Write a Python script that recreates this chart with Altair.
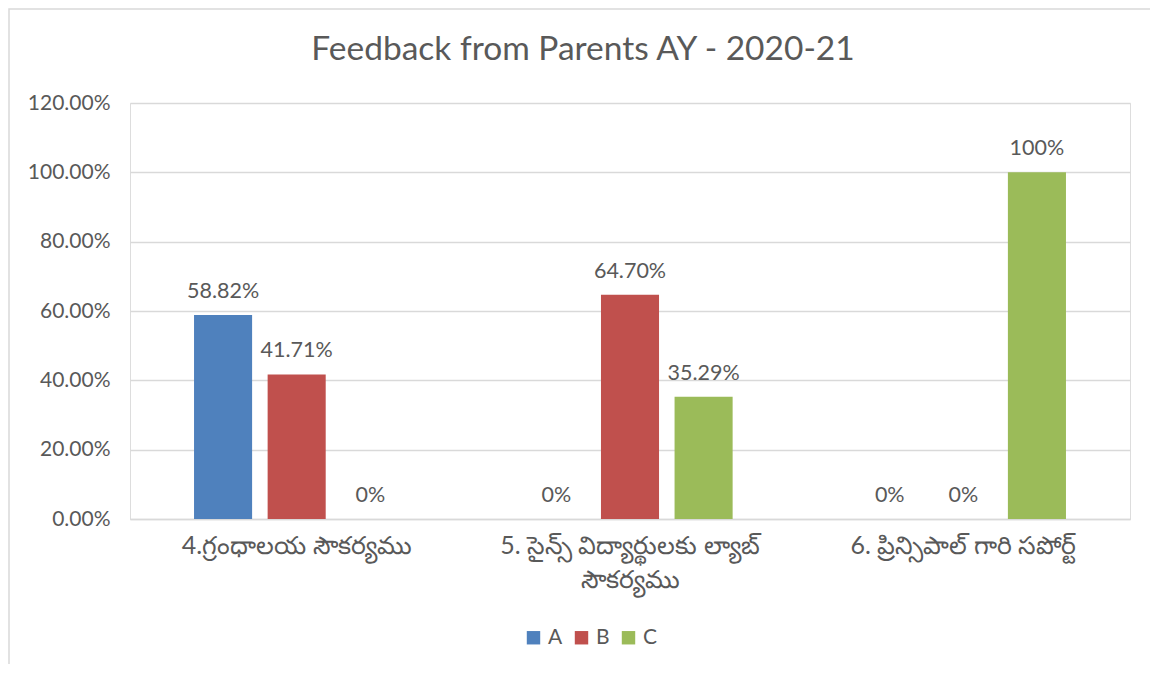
import altair as alt
import pandas as pd

categories = [
    "4.గ్రంధాలయ సౌకర్యము",
    "5. సైన్స్ విద్యార్థులకు ల్యాబ్\nసౌకర్యము",
    "6. ప్రిన్సిపాల్ గారి సపోర్ట్",
]
series = ["A", "B", "C"]
values_A = [58.82, 0, 0]
values_B = [41.71, 64.70, 0]
values_C = [0, 35.29, 100]
labels_A = ["58.82%", "0%", "0%"]
labels_B = ["41.71%", "64.70%", "0%"]
labels_C = ["0%", "35.29%", "100%"]
colors = ["#4F81BD", "#C0504D", "#9BBB59"]
y_ticks = [0, 20, 40, 60, 80, 100, 120]

rows = []
for s, vals, labs in zip(series, [values_A, values_B, values_C], [labels_A, labels_B, labels_C]):
    for c, v, l in zip(categories, vals, labs):
        rows.append({"category": c, "series": s, "value": v, "label": l})
df = pd.DataFrame(rows)

FONT = "Lato"
GREY = "#595959"

x_enc = alt.X("category:N", sort=categories, title=None,
              scale=alt.Scale(paddingInner=0, paddingOuter=0),
              axis=alt.Axis(labelAngle=0, labelFontSize=25, labelColor=GREY, labelFont=FONT,
                            labelPadding=14, ticks=False, domain=True, domainColor="#D9D9D9",
                            domainWidth=1.5, labelExpr="split(datum.label, '\\n')",
                            labelLineHeight=34, labelBaseline="top", labelLimit=0))
xoff = alt.XOffset("series:N", sort=series,
                   scale=alt.Scale(paddingInner=0.211, paddingOuter=0.87))
y_enc = alt.Y("value:Q", title=None,
              scale=alt.Scale(domain=[0, 120], nice=False),
              axis=alt.Axis(values=y_ticks, labelExpr="format(datum.value/100, '.2%')",
                            labelFontSize=21, labelColor=GREY, labelFont=FONT,
                            ticks=False, domain=False, labelPadding=20,
                            grid=True, gridColor="#D9D9D9", gridWidth=1.5))

base = alt.Chart(df)

bars = base.mark_bar().encode(
    x=x_enc, xOffset=xoff, y=y_enc,
    color=alt.Color("series:N", sort=series,
                    scale=alt.Scale(domain=series, range=colors),
                    legend=alt.Legend(title=None, orient="none", direction="horizontal",
                                      legendX=393, legendY=524, labelFontSize=21,
                                      labelColor=GREY, labelFont=FONT, symbolType="square",
                                      symbolSize=180, symbolStrokeWidth=0, columnPadding=8,
                                      labelOffset=4, padding=0)),
)

texts = base.mark_text(baseline="alphabetic", dy=-17, fontSize=21.5, color=GREY, font=FONT).encode(
    x=alt.X("category:N", sort=categories), xOffset=alt.XOffset("series:N", sort=series),
    y=alt.Y("value:Q"), text="label:N",
)

frame = alt.Chart(pd.DataFrame({"k": [0]})).mark_rect(
    fill=None, stroke="#D9D9D9", strokeWidth=1.5
).encode(x=alt.value(-121), x2=alt.value(1045), y=alt.value(-94), y2=alt.value(580))

chart = alt.layer(frame, bars, texts).properties(
    width=1000, height=416,
    autosize=alt.AutoSizeParams(type="none"),
    padding={"left": 122, "top": 95, "right": 20, "bottom": 145},
    title=alt.TitleParams("Feedback from Parents AY - 2020-21", fontSize=33.5, font=FONT,
                          color=GREY, fontWeight="normal", anchor="middle", dx=-47,
                          baseline="alphabetic", offset=-85),
).configure_view(stroke=None).configure(background="white")

chart.save("out.html", embed_options={"renderer": "svg", "actions": False})
